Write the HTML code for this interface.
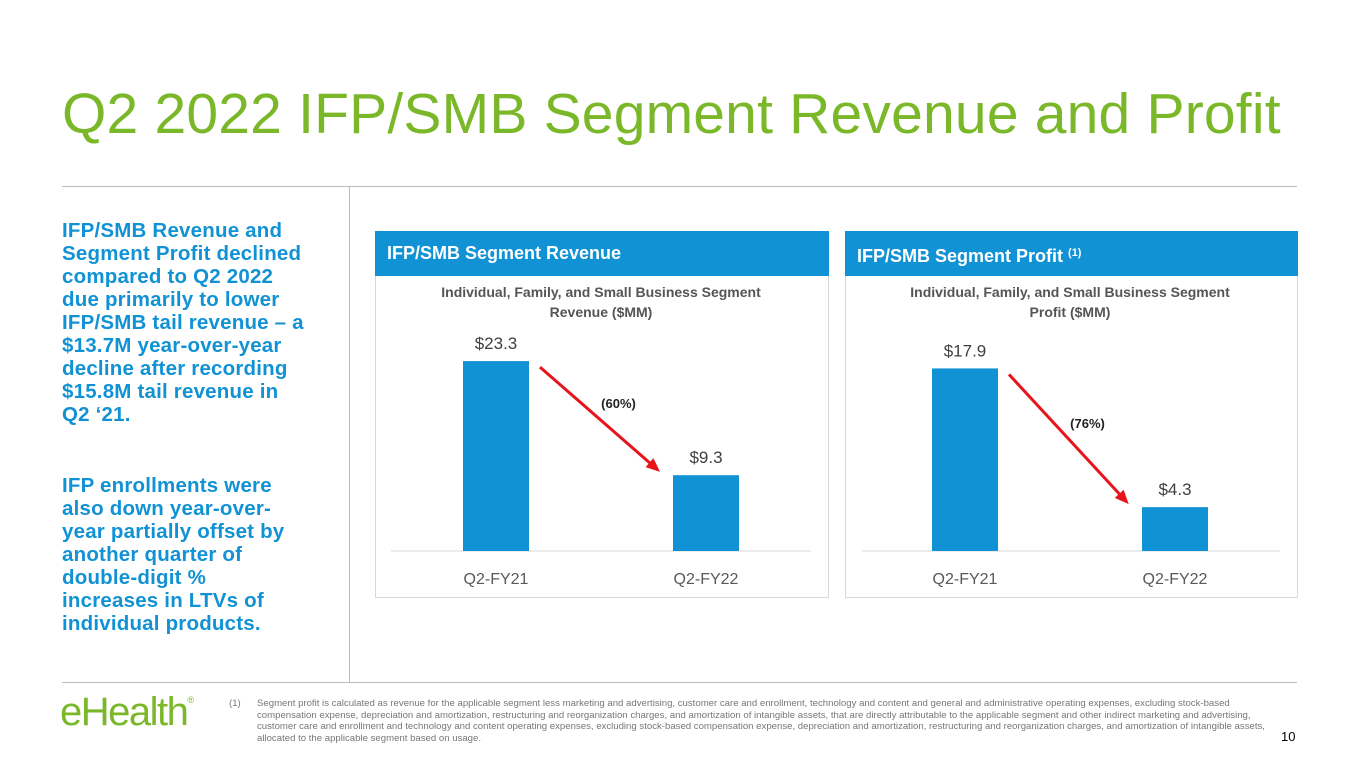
<!DOCTYPE html>
<html><head><meta charset="utf-8"><style>
body{margin:0;width:1365px;height:768px;background:#fff;position:relative;overflow:hidden;font-family:"Liberation Sans",sans-serif}
.abs{position:absolute}
h1{position:absolute;left:62px;top:81px;margin:0;font-weight:normal;font-size:57px;color:#7ab829;letter-spacing:0.2px;white-space:nowrap}
.side{left:62px;font-weight:bold;font-size:20.5px;line-height:23px;color:#1192d4;white-space:nowrap;letter-spacing:0.2px}
.panel{position:absolute;top:231px;height:366px;border:1px solid #d8d8d8;border-top:none}
.hdr{position:absolute;left:-1px;right:-1px;top:0;height:45px;background:#1192d4;color:#fff;font-weight:bold;font-size:18px;line-height:45px;padding-left:12px}
.foot{left:257px;top:698px;width:1010px;font-size:9.6px;line-height:11.5px;color:#777}
svg text{font-family:"Liberation Sans","DejaVu Sans",sans-serif}
</style></head><body>
<h1>Q2 2022 IFP/SMB Segment Revenue and Profit</h1>
<div class="abs" style="left:62px;top:186px;width:1235px;height:1px;background:#bbb"></div>
<div class="abs" style="left:349px;top:186px;width:1px;height:496px;background:#bbb"></div>
<div class="abs" style="left:62px;top:682px;width:1235px;height:1px;background:#bbb"></div>
<div class="abs side" style="top:219px">IFP/SMB Revenue and<br>Segment Profit declined<br>compared to Q2 2022<br>due primarily to lower<br>IFP/SMB tail revenue – a<br>$13.7M year-over-year<br>decline after recording<br>$15.8M tail revenue in<br>Q2 ‘21.</div>
<div class="abs side" style="top:474px">IFP enrollments were<br>also down year-over-<br>year partially offset by<br>another quarter of<br>double-digit %<br>increases in LTVs of<br>individual products.</div>
<div class="panel" style="left:375px;width:452px"><div class="hdr">IFP/SMB Segment Revenue</div></div>
<div class="panel" style="left:845px;width:451px"><div class="hdr">IFP/SMB Segment Profit <sup style="font-size:11px;vertical-align:6px">(1)</sup></div></div>
<svg class="abs" style="left:0;top:0" width="1365" height="768" id="charts">
<defs><marker id="ah" markerWidth="14" markerHeight="12" refX="10" refY="6" orient="auto" markerUnits="userSpaceOnUse"><path d="M0,0 L14,6 L0,12 z" fill="#e8141b"/></marker></defs>
</svg>
<div class="abs" style="left:60px;top:690px;font-size:40px;color:#7ab829;letter-spacing:-1.5px">eHealth<sup style="font-size:9px;vertical-align:22px;letter-spacing:0">®</sup></div>
<div class="abs foot"><span style="position:absolute;left:-28px">(1)</span>Segment profit is calculated as revenue for the applicable segment less marketing and advertising, customer care and enrollment, technology and content and general and administrative operating expenses, excluding stock-based compensation expense, depreciation and amortization, restructuring and reorganization charges, and amortization of intangible assets, that are directly attributable to the applicable segment and other indirect marketing and advertising, customer care and enrollment and technology and content operating expenses, excluding stock-based compensation expense, depreciation and amortization, restructuring and reorganization charges, and amortization of intangible assets, allocated to the applicable segment based on usage.</div>
<div class="abs" style="left:1281px;top:729px;font-size:13px">10</div>
<script>
const categories=["Q2-FY21","Q2-FY22"];
const revenueValues=[23.3,9.3];
const profitValues=[17.9,4.3];
const revenueChange="(60%)";
const profitChange="(76%)";
const NS="http://www.w3.org/2000/svg";
const svg=document.getElementById('charts');
function mk(t,a,txt){const e=document.createElementNS(NS,t);for(const k in a)e.setAttribute(k,a[k]);if(txt!==undefined)e.textContent=txt;svg.appendChild(e);return e;}
function chart(cfg){
  const base=551, scale=cfg.scale;
  const y=v=>base-v*scale;
  const x=i=>cfg.x0+i*210;
  let t=mk('text',{x:cfg.cx,y:297,'text-anchor':'middle','font-size':14,'font-weight':'bold',fill:'#555'},cfg.t1);
  
  
  t=mk('text',{x:cfg.cx,y:317,'text-anchor':'middle','font-size':14,'font-weight':'bold',fill:'#555'},cfg.t2);
  
  
  const ax=mk('line',{x1:cfg.ax0,x2:cfg.ax1,y1:base,y2:base,stroke:'#d9d9d9'});
  
  
  cfg.vals.forEach((v,i)=>{
    const b=mk('rect',{x:x(i),y:y(v),width:66,height:v*scale,fill:'#1192d4'});
    
    
    const l=mk('text',{x:x(i)+33,y:y(v)-12,'text-anchor':'middle','font-size':17,fill:'#404040'},'$'+v.toFixed(1));
    
    
    const c=mk('text',{x:x(i)+33,y:584,'text-anchor':'middle','font-size':16,fill:'#595959'},categories[i]);
    
    
  });
  const x1=x(0)+77,y1=y(cfg.vals[0])+6,x2=x(1)-16,y2=y(cfg.vals[1])-6;
  const a=mk('line',{x1:x1,y1:y1,x2:x2,y2:y2,stroke:'#e8141b','stroke-width':3,'marker-end':'url(#ah)'});
  
  
  const p=mk('text',{x:(x1+x2)/2+20,y:(y1+y2)/2-10,'text-anchor':'middle','font-size':13,'font-weight':'bold',fill:'#222'},cfg.change);
  
  
}
chart({name:'revenue',vals:revenueValues,scale:8.15,x0:463,cx:601,ax0:391,ax1:811,t1:'Individual, Family, and Small Business Segment',t2:'Revenue ($MM)',change:revenueChange});
chart({name:'profit',vals:profitValues,scale:10.2,x0:932,cx:1070,ax0:862,ax1:1280,t1:'Individual, Family, and Small Business Segment',t2:'Profit ($MM)',change:profitChange});
</script>
</body></html>
